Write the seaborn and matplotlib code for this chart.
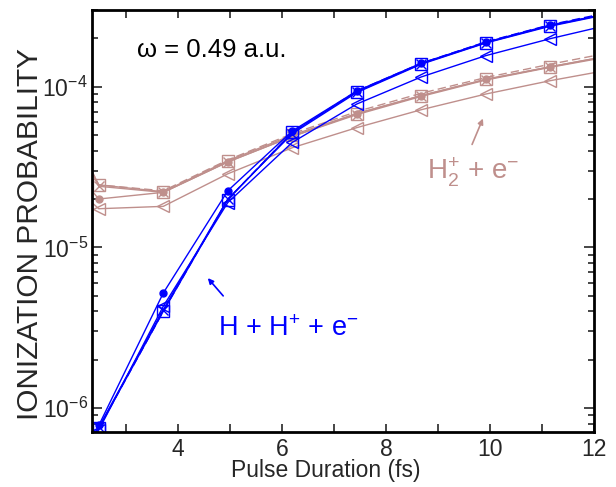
import numpy as np
import pandas as pd
import matplotlib
matplotlib.use("Agg")
import matplotlib.pyplot as plt
import seaborn as sns

# Pulse durations (fs)
duration = [1.24, 2.48, 3.72, 4.96, 6.20, 7.44, 8.68, 9.92, 11.16, 12.40]

# H + H+ + e-  (blue)
blue_square = [1.0e-7, 7.5e-7, 4.0e-6, 1.98e-5, 5.2e-5, 9.3e-5, 1.39e-4, 1.88e-4, 2.40e-4, 2.90e-4]
blue_cross = [1.0e-7, 7.6e-7, 4.1e-6, 2.00e-5, 5.1e-5, 9.2e-5, 1.38e-4, 1.87e-4, 2.38e-4, 2.88e-4]
blue_circle = [1.2e-7, 7.8e-7, 5.2e-6, 2.25e-5, 5.3e-5, 9.4e-5, 1.40e-4, 1.89e-4, 2.42e-4, 2.90e-4]
blue_triangle = [1.0e-7, 7.3e-7, 4.3e-6, 1.90e-5, 4.5e-5, 7.8e-5, 1.15e-4, 1.56e-4, 1.99e-4, 2.47e-4]
blue_dashed = [1.0e-7, 7.5e-7, 4.0e-6, 1.99e-5, 5.2e-5, 9.4e-5, 1.40e-4, 1.90e-4, 2.43e-4, 2.95e-4]

# H2+ + e-  (brown)
brown_square = [1.5e-4, 2.45e-5, 2.22e-5, 3.46e-5, 5.0e-5, 6.8e-5, 8.8e-5, 1.11e-4, 1.33e-4, 1.58e-4]
brown_cross = [1.5e-4, 2.40e-5, 2.20e-5, 3.40e-5, 4.9e-5, 6.7e-5, 8.7e-5, 1.10e-4, 1.32e-4, 1.56e-4]
brown_circle = [6.0e-5, 2.00e-5, 2.20e-5, 3.40e-5, 4.9e-5, 6.8e-5, 8.8e-5, 1.11e-4, 1.33e-4, 1.58e-4]
brown_triangle = [4.0e-5, 1.74e-5, 1.80e-5, 2.87e-5, 4.17e-5, 5.56e-5, 7.19e-5, 9.0e-5, 1.09e-4, 1.29e-4]
brown_dashed = [1.5e-4, 2.45e-5, 2.25e-5, 3.50e-5, 5.1e-5, 7.0e-5, 9.1e-5, 1.14e-4, 1.38e-4, 1.65e-4]

xticks = [4, 6, 8, 10, 12]

BLUE = "#0000ff"
BROWN = "#bf8f8c"

sns.set_style("ticks")
plt.rcParams["font.family"] = ["Liberation Sans", "DejaVu Sans"]
plt.rcParams["mathtext.fontset"] = "custom"
plt.rcParams["mathtext.rm"] = "Liberation Sans"
plt.rcParams["mathtext.it"] = "Liberation Sans:italic"

fig = plt.figure(figsize=(6.16, 4.87), dpi=100)
ax = fig.add_axes([92 / 616, 55 / 487, (594 - 92) / 616, (432 - 10) / 487])

def draw(y, color, marker, dashed=False, ms=7, filled=False):
    df = pd.DataFrame({"x": duration, "y": y})
    kw = dict(data=df, x="x", y="y", ax=ax, color=color, lw=1.0, estimator=None,
              sort=False)
    if marker is not None:
        kw.update(marker=marker, markersize=ms, markeredgecolor=color,
                  markerfacecolor=color if filled else "none", markeredgewidth=1.0)
    if dashed:
        kw.update(linestyle=(0, (6, 3)))
    sns.lineplot(**kw)

for col, sq, cr, ci, tr, da in [
    (BROWN, brown_square, brown_cross, brown_circle, brown_triangle, brown_dashed),
    (BLUE, blue_square, blue_cross, blue_circle, blue_triangle, blue_dashed),
]:
    draw(da, col, None, dashed=True)
    draw(tr, col, "<", ms=8)
    draw(ci, col, "o", ms=5, filled=True)
    draw(cr, col, "x", ms=7)
    draw(sq, col, "s", ms=8)

ax.set_yscale("log")
ax.set_xlim(2.35, 12.0)
ax.set_ylim(7.1e-7, 3.0e-4)
ax.set_xticks(xticks)
ax.set_xticks([3, 5, 7, 9, 11], minor=True)
ax.set_xlabel("Pulse Duration (fs)", fontsize=16.5, labelpad=0)
ax.set_ylabel("IONIZATION PROBABILITY", fontsize=21.5, labelpad=0)
ax.xaxis.set_label_coords(0.466, -0.064)
ax.yaxis.set_label_coords(-0.096, 0.469)

ax.tick_params(which="both", direction="in", top=True, right=True, width=1.2)
ax.tick_params(axis="x", which="both", length=6, labelsize=16.5, pad=4)
ax.tick_params(axis="y", which="major", length=7, labelsize=16.5, pad=3)
ax.tick_params(axis="y", which="minor", length=4)
for s in ax.spines.values():
    s.set_linewidth(2.0)
    s.set_color("black")

ax.text(0.09, 0.905, "ω = 0.49 a.u.", transform=ax.transAxes, fontsize=18.5,
        color="black", ha="left", va="center")
ax.text(0.25, 0.243, r"H + H$^{+}$ + e$^{-}$", transform=ax.transAxes,
        fontsize=19.5, color=BLUE, ha="left", va="center")
ax.text(0.667, 0.615, r"H$_{2}^{+}$ + e$^{-}$", transform=ax.transAxes,
        fontsize=20, color=BROWN, ha="left", va="center")

# arrows (figure pixel coords -> data via transforms)
def pix(xp, yp):
    return ax.transData.inverted().transform(fig.transFigure.transform((xp / 616, 1 - yp / 487)))

ax.annotate("", xy=pix(206, 276), xytext=pix(225, 298),
            arrowprops=dict(arrowstyle="-|>", color=BLUE, lw=1.2, mutation_scale=8))
ax.annotate("", xy=pix(484, 116), xytext=pix(471, 147),
            arrowprops=dict(arrowstyle="-|>", color=BROWN, lw=1.2, mutation_scale=8))

fig.savefig("out.png", dpi=100)
